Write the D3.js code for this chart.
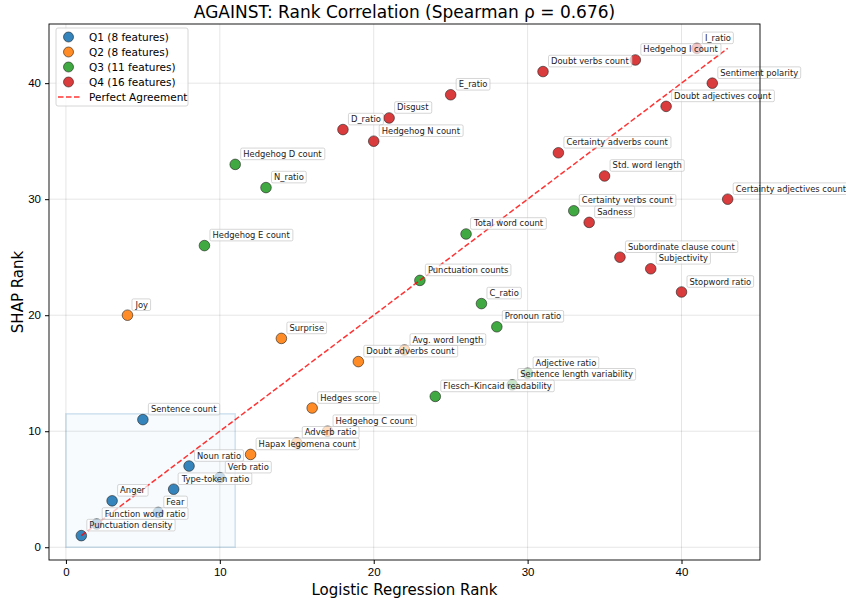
<!DOCTYPE html>
<html>
<head>
<meta charset="UTF-8" />
<script src="https://d3js.org/d3.v7.min.js"></script>
<style>
  body { margin: 0; background: #fff; }
  svg { font-family: "DejaVu Sans", sans-serif; display: block; }
  .grid line { stroke: #000; stroke-opacity: 0.1; }
  .axis text { font-size: 11.5px; fill: #000; }
  .lbl text { font-size: 8.4px; fill: #222; }
</style>
</head>
<body>
<svg id="chart" width="846" height="601"></svg>
<script>
// feature names, logistic regression rank, SHAP rank, quartile
const features = [
  "Punctuation density", "Function word ratio", "Anger", "Fear", "Type-token ratio", "Noun ratio", "Verb ratio", "Sentence count",
  "Joy", "Surprise", "Doubt adverbs count", "Avg. word length", "Hedges score", "Hedgehog C count", "Adverb ratio", "Hapax legomena count",
  "Hedgehog D count", "N_ratio", "Hedgehog E count", "Total word count", "Punctuation counts", "C_ratio", "Pronoun ratio",
  "Certainty verbs count", "Adjective ratio", "Sentence length variability", "Flesch–Kincaid readability",
  "I_ratio", "Hedgehog I count", "Doubt verbs count", "Sentiment polarity", "Doubt adjectives count", "E_ratio", "Disgust",
  "D_ratio", "Hedgehog N count", "Certainty adverbs count", "Std. word length", "Certainty adjectives count", "Sadness",
  "Subordinate clause count", "Subjectivity", "Stopword ratio"
];
const lrRank = [
  1, 2, 3, 6, 7, 8, 10, 5,
  4, 14, 19, 22, 16, 17, 15, 12,
  11, 13, 9, 26, 23, 27, 28, 33, 30, 29, 24,
  41, 37, 31, 42, 39, 25, 21, 18, 20, 32, 35, 43, 34, 36, 38, 40
];
const shapRank = [
  1, 2, 4, 3, 5, 7, 6, 11,
  20, 18, 16, 17, 12, 10, 9, 8,
  33, 31, 26, 27, 23, 21, 19, 29, 15, 14, 13,
  43, 42, 41, 40, 38, 39, 37, 36, 35, 34, 32, 30, 28, 25, 24, 22
];
const quartile = [
  "Q1", "Q1", "Q1", "Q1", "Q1", "Q1", "Q1", "Q1",
  "Q2", "Q2", "Q2", "Q2", "Q2", "Q2", "Q2", "Q2",
  "Q3", "Q3", "Q3", "Q3", "Q3", "Q3", "Q3", "Q3", "Q3", "Q3", "Q3",
  "Q4", "Q4", "Q4", "Q4", "Q4", "Q4", "Q4", "Q4", "Q4", "Q4", "Q4", "Q4", "Q4", "Q4", "Q4", "Q4"
];
const quartiles = ["Q1", "Q2", "Q3", "Q4"];
const quartileColors = ["#1f77b4", "#ff7f0e", "#2ca02c", "#d62728"];
const ticks = [0, 10, 20, 30, 40];
const rho = "0.676";

const data = features.map((f, i) => ({ name: f, lr: lrRank[i], shap: shapRank[i], q: quartile[i] }));

const svg = d3.select("#chart");
const margin = { left: 49, top: 24, right: 86, bottom: 41 };
const W = 846 - margin.left - margin.right;
const H = 601 - margin.top - margin.bottom;

const x = d3.scaleLinear().domain([-1.1, 45.1]).range([0, W]);
const y = d3.scaleLinear().domain([-1.1, 45.1]).range([H, 0]);
const color = d3.scaleOrdinal().domain(quartiles).range(quartileColors);

const g = svg.append("g").attr("transform", `translate(${margin.left},${margin.top})`);

// grid
const grid = g.append("g").attr("class", "grid");
grid.selectAll(".gx").data(ticks).join("line")
  .attr("x1", d => x(d)).attr("x2", d => x(d)).attr("y1", 0).attr("y2", H);
grid.selectAll(".gy").data(ticks).join("line")
  .attr("y1", d => y(d)).attr("y2", d => y(d)).attr("x1", 0).attr("x2", W);

// top-ranked region box
g.append("rect")
  .attr("x", x(0)).attr("y", y(11.5))
  .attr("width", x(11) - x(0)).attr("height", y(0) - y(11.5))
  .attr("fill", "#1f77b4").attr("fill-opacity", 0.03)
  .attr("stroke", "#1f77b4").attr("stroke-opacity", 0.2).attr("stroke-width", 1.5);

// points
g.selectAll("circle.pt").data(data).join("circle")
  .attr("class", "pt")
  .attr("cx", d => x(d.lr)).attr("cy", d => y(d.shap)).attr("r", 5.3)
  .attr("fill", d => color(d.q)).attr("fill-opacity", 0.9)
  .attr("stroke", "#222").attr("stroke-width", 0.6);

// perfect agreement line
const ext = [d3.min(lrRank), d3.max(lrRank)];
g.append("line")
  .attr("x1", x(ext[0])).attr("y1", y(ext[0]))
  .attr("x2", x(ext[1])).attr("y2", y(ext[1]))
  .attr("stroke", "red").attr("stroke-opacity", 0.8)
  .attr("stroke-width", 1.5).attr("stroke-dasharray", "5.5,2.5");

// labels
const lbl = g.selectAll("g.lbl").data(data).join("g")
  .attr("class", "lbl")
  .attr("transform", d => `translate(${x(d.lr) + 8},${y(d.shap) - 7.5})`);
lbl.append("text").text(d => d.name);
lbl.each(function () {
  const gg = d3.select(this);
  const bb = gg.select("text").node().getBBox();
  gg.insert("rect", "text")
    .attr("x", bb.x - 2.5).attr("y", bb.y - 0.8)
    .attr("width", bb.width + 5).attr("height", bb.height + 1.6)
    .attr("rx", 1.5)
    .attr("fill", "#fff").attr("fill-opacity", 0.7)
    .attr("stroke", "#bbb").attr("stroke-width", 0.6);
});

// axes
const xAxis = g.append("g").attr("class", "axis").attr("transform", `translate(0,${H})`)
  .call(d3.axisBottom(x).tickValues(ticks).tickSize(4).tickPadding(4));
const yAxis = g.append("g").attr("class", "axis")
  .call(d3.axisLeft(y).tickValues(ticks).tickSize(4).tickPadding(4));
[xAxis, yAxis].forEach(a => a.select(".domain").remove());
g.selectAll(".axis .tick line").attr("stroke", "#000");

g.append("rect").attr("width", W).attr("height", H)
  .attr("fill", "none").attr("stroke", "#000").attr("stroke-width", 0.9);

// titles
svg.append("text").attr("x", margin.left + W / 2).attr("y", 18)
  .attr("text-anchor", "middle").attr("font-size", 17)
  .text(`AGAINST: Rank Correlation (Spearman ρ = ${rho})`);
svg.append("text").attr("x", margin.left + W / 2).attr("y", 595)
  .attr("text-anchor", "middle").attr("font-size", 15)
  .text("Logistic Regression Rank");
svg.append("text")
  .attr("transform", `translate(23,${margin.top + H / 2}) rotate(-90)`)
  .attr("text-anchor", "middle").attr("font-size", 15)
  .text("SHAP Rank");

// legend
const counts = quartiles.map(q => quartile.filter(v => v === q).length);
const leg = g.append("g").attr("transform", "translate(7,4)");
leg.append("rect").attr("width", 132).attr("height", 78).attr("rx", 2)
  .attr("fill", "#fff").attr("fill-opacity", 0.8)
  .attr("stroke", "#ccc").attr("stroke-width", 0.8);
quartiles.forEach((q, i) => {
  const row = leg.append("g").attr("transform", `translate(0,${9 + i * 15})`);
  row.append("circle").attr("cx", 12.5).attr("cy", 0).attr("r", 5)
    .attr("fill", quartileColors[i]).attr("fill-opacity", 0.9)
    .attr("stroke", "#222").attr("stroke-width", 0.6);
  row.append("text").attr("x", 33).attr("y", 3.7).attr("font-size", 10.5)
    .text(`${q} (${counts[i]} features)`);
});
const lr = leg.append("g").attr("transform", "translate(0,69)");
lr.append("line").attr("x1", 2).attr("x2", 24).attr("y1", 0).attr("y2", 0)
  .attr("stroke", "red").attr("stroke-opacity", 0.8)
  .attr("stroke-width", 1.5).attr("stroke-dasharray", "5.5,2.5");
lr.append("text").attr("x", 33).attr("y", 3.7).attr("font-size", 10.5).text("Perfect Agreement");
</script>
</body>
</html>
